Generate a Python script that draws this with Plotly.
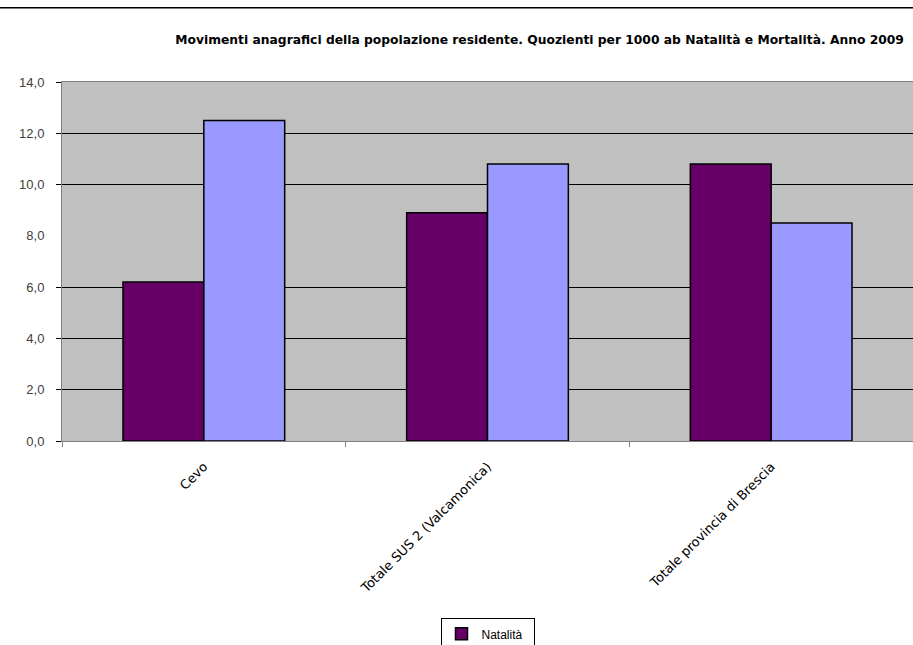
import plotly.graph_objects as go

categories = ["Cevo", "Totale SUS 2 (Valcamonica)", "Totale provincia di Brescia"]
natalita = [6.2, 8.9, 10.8]
mortalita = [12.5, 10.8, 8.5]
y_ticks = [0, 2, 4, 6, 8, 10, 12, 14]
grid_ticks = [0, 2, 4, 6, 10, 12, 14]

title = "Movimenti anagrafici della popolazione residente. Quozienti per 1000 ab Natalità e Mortalità. Anno 2009"
arial = "Arial, Liberation Sans, sans-serif"
dejavu = "DejaVu Sans, sans-serif"

fig = go.Figure()
fig.add_trace(go.Bar(x=categories, y=natalita, name="Natalità",
                     marker=dict(color="#660066", line=dict(color="black", width=1.5))))
fig.add_trace(go.Bar(x=categories, y=mortalita, name="Mortalità",
                     marker=dict(color="#9999FF", line=dict(color="black", width=1.5))))
# empty helper trace so the grid axis is drawn
fig.add_trace(go.Scatter(x=[], y=[], yaxis="y2", showlegend=False, hoverinfo="skip"))

fig.update_layout(
    width=913, height=645,
    margin=dict(l=62, r=0, t=82, b=204, autoexpand=False),
    paper_bgcolor="white", plot_bgcolor="#C0C0C0",
    separators=",.",
    font=dict(family=arial, size=11, color="#222"),
    barmode="group", bargap=0.43, bargroupgap=0,
    title=dict(text=title, x=0.591, xanchor="center", y=0.938, yanchor="middle",
               font=dict(family=dejavu, size=12.3, color="black", weight="bold")),
    showlegend=True,
    legend=dict(x=0.5, xanchor="center", y=-0.494, yanchor="top",
                bgcolor="white", bordercolor="black", borderwidth=1,
                font=dict(family=arial, size=12, color="black"), orientation="v",
                itemwidth=30),
    xaxis=dict(showline=True, linecolor="#808080", linewidth=1, mirror=True,
               ticks="outside", tickson="boundaries", ticklen=5, tickcolor="#808080",
               tickangle=-45, ticklabelstandoff=12,
               tickfont=dict(family=dejavu, size=13, color="black"),
               automargin=False),
    yaxis=dict(range=[0, 14], tickvals=y_ticks, tickformat=".1f", showgrid=False,
               showline=True, linecolor="#808080", linewidth=1, mirror=True,
               ticks="", ticklabelstandoff=14, zeroline=False, automargin=False,
               tickfont=dict(family=arial, size=13, color="#404040")),
    yaxis2=dict(range=[0, 14], overlaying="y", side="left", tickvals=grid_ticks,
                showticklabels=False, showgrid=True, gridcolor="black", gridwidth=1,
                ticks="outside", ticklen=5, tickcolor="black", zeroline=False,
                showline=False, automargin=False),
)
fig.add_shape(type="line", xref="paper", yref="paper", x0=-0.08, x1=1.0,
              y0=1.207, y1=1.207, line=dict(color="black", width=1.5))
fig.write_html("out.html", post_script="document.body.style.margin='0';",
               config={"displayModeBar": False})
